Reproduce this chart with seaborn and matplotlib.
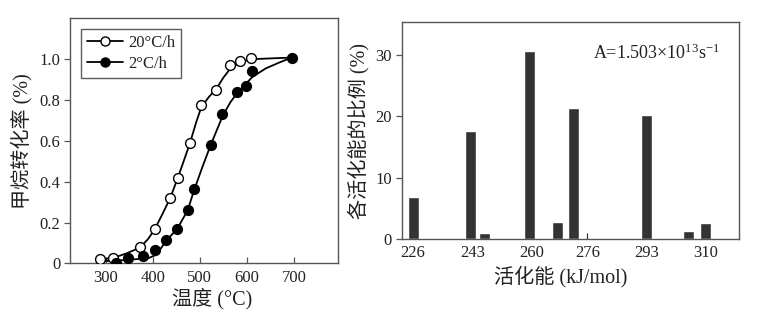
import numpy as np
import pandas as pd
import matplotlib
matplotlib.use("Agg")
import matplotlib.pyplot as plt
from matplotlib.lines import Line2D
import seaborn as sns

# ---------------- data ----------------
# left panel: measured points
fast_T = [288, 316, 373, 404, 437, 454, 479, 503, 535, 565, 586, 609]
fast_X = [0.02, 0.027, 0.078, 0.17, 0.32, 0.42, 0.59, 0.775, 0.851, 0.97, 0.99, 1.005]
slow_T = [321, 347, 380, 404, 428, 452, 474, 487, 523, 548, 578, 598, 611, 695]
slow_X = [0.0, 0.025, 0.036, 0.068, 0.114, 0.17, 0.26, 0.366, 0.58, 0.732, 0.84, 0.87, 0.943, 1.008]

# left panel: fitted curves
fast_curve_T = [288, 316, 345, 373, 390, 404, 420, 437, 454, 467, 479, 492, 503, 519, 535, 550, 565, 586, 609, 650, 695]
fast_curve_X = [0.02, 0.027, 0.05, 0.078, 0.12, 0.167, 0.24, 0.32, 0.425, 0.51, 0.59, 0.69, 0.765, 0.815, 0.855, 0.91, 0.955, 0.985, 1.0, 1.004, 1.008]
slow_curve_T = [300, 330, 360, 390, 405, 416, 428, 452, 474, 488, 505, 523, 548, 565, 578, 598, 611, 640, 670, 695]
slow_curve_X = [0.012, 0.015, 0.02, 0.025, 0.04, 0.07, 0.11, 0.17, 0.26, 0.36, 0.47, 0.58, 0.72, 0.79, 0.83, 0.88, 0.912, 0.955, 0.985, 1.008]

series_labels = ["20°C/h", "2°C/h"]

# right panel: activation energy distribution
energy = [226, 242.5, 246.5, 259.5, 267.5, 272, 293, 305, 310]
fraction = [6.9, 17.7, 1.0, 30.7, 2.8, 21.3, 20.2, 1.35, 2.7]
energy_ticks = [226, 243, 260, 276, 293, 310]
left_yticks = [0, 0.2, 0.4, 0.6, 0.8, 1.0]
left_yticklabels = ["0", "0.2", "0.4", "0.6", "0.8", "1.0"]
left_xticks = [300, 400, 500, 600, 700]
right_yticks = [0, 10, 20, 30]

# ---------------- style ----------------
sns.set_theme(style="ticks")
plt.rcParams["font.family"] = ["Liberation Serif", "Noto Sans CJK SC"]
plt.rcParams["mathtext.fontset"] = "custom"
plt.rcParams["mathtext.rm"] = "Liberation Serif"
plt.rcParams["mathtext.it"] = "Liberation Serif:italic"
plt.rcParams["axes.unicode_minus"] = False

TXT = "#222222"
SPINE = "#555555"

fig = plt.figure(figsize=(7.67, 3.17), dpi=100)
axL = fig.add_axes([0.0913, 0.169, 0.349, 0.773])
axR = fig.add_axes([0.5237, 0.245, 0.4398, 0.6845])

# ---------------- left panel ----------------
sns.lineplot(x=fast_curve_T, y=fast_curve_X, sort=False, estimator=None,
             color="black", lw=1.3, ax=axL)
sns.lineplot(x=slow_curve_T, y=slow_curve_X, sort=False, estimator=None,
             color="black", lw=1.3, ax=axL)
sns.scatterplot(x=fast_T, y=fast_X, marker="o", s=50, color="white",
                edgecolor="black", linewidth=1.0, ax=axL, zorder=3)
sns.scatterplot(x=slow_T, y=slow_X, marker="o", s=50, color="black",
                edgecolor="black", linewidth=1.0, ax=axL, zorder=3)

axL.set_xlim(224, 793)
axL.set_ylim(0, 1.2)
axL.set_xticks(left_xticks)
axL.set_yticks(left_yticks)
axL.set_yticklabels(left_yticklabels)
axL.tick_params(axis="x", direction="in", length=4, width=0.9, color=SPINE,
                labelsize=12, labelcolor=TXT, pad=5)
axL.tick_params(axis="y", direction="out", length=4, width=0.9, color=SPINE,
                labelsize=12, labelcolor=TXT, pad=3)
axL.set_xlabel("温度 (°C)", fontsize=14.5, color=TXT, labelpad=1)
axL.set_ylabel("甲烷转化率 (%)", fontsize=14.5, color=TXT, labelpad=5)
axL.xaxis.set_label_coords(0.53, -0.1)

handles = [
    Line2D([], [], color="black", lw=1.3, marker="o", markersize=6.5,
           markerfacecolor="white", markeredgecolor="black"),
    Line2D([], [], color="black", lw=1.3, marker="o", markersize=6.5,
           markerfacecolor="black", markeredgecolor="black"),
]
leg = axL.legend(handles, series_labels, loc="upper left",
                 bbox_to_anchor=(0.04, 0.955), fontsize=12,
                 frameon=True, fancybox=False, handlelength=2.2,
                 handletextpad=0.3, borderpad=0.35, labelspacing=0.3,
                 borderaxespad=0.0)
leg.get_frame().set_edgecolor("#333333")
leg.get_frame().set_linewidth(1.0)
for t in leg.get_texts():
    t.set_color(TXT)

# ---------------- right panel ----------------
min_gap = float(np.min(np.diff(sorted(energy))))
sns.barplot(x=energy, y=fraction, native_scale=True, width=3.2 / min_gap,
            color="#333333", saturation=1, ax=axR, zorder=2)
axR.set_xlim(222.7, 319.5)
axR.set_ylim(0, 35.3)
axR.set_xticks(energy_ticks)
axR.set_xticklabels([str(v) for v in energy_ticks])
axR.set_yticks(right_yticks)
axR.tick_params(axis="x", direction="in", length=4, width=0.9, color="#333333",
                labelsize=12, labelcolor=TXT, pad=4)
axR.tick_params(axis="y", direction="out", length=4, width=0.9, color=SPINE,
                labelsize=12, labelcolor=TXT, pad=3)
axR.set_xlabel("活化能 (kJ/mol)", fontsize=14.5, color=TXT, labelpad=1)
axR.set_ylabel("各活化能的比例 (%)", fontsize=14.5, color=TXT, labelpad=4)
axR.xaxis.set_label_coords(0.47, -0.12)
axR.text(0.567, 0.858, "A=1.503×10$^{13}$s$^{-1}$", transform=axR.transAxes,
         fontsize=13, color=TXT, ha="left", va="center")

for ax in (axL, axR):
    for sp in ax.spines.values():
        sp.set_visible(True)
        sp.set_color(SPINE)
        sp.set_linewidth(1.0)

fig.savefig("out.png", dpi=100)
